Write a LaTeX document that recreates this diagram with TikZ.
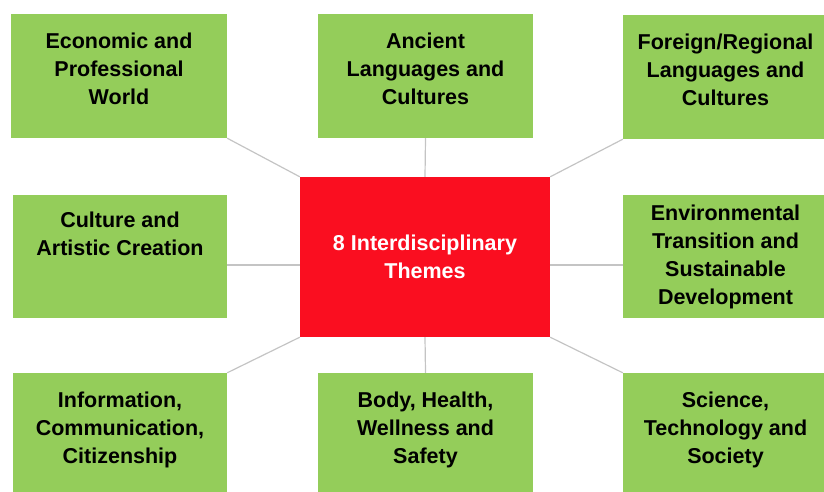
\documentclass[tikz,border=0pt]{standalone}
\usepackage{fontspec}
\setmainfont{Liberation Sans}
\usepackage{tikz}
\usetikzlibrary{positioning}
\definecolor{themegreen}{RGB}{148,205,90}
\definecolor{hubred}{RGB}{250,14,32}
\definecolor{linkgray}{RGB}{196,196,196}
\tikzset{theme/.style={rectangle,fill=themegreen,inner sep=0pt,minimum height=124pt}}
\tikzset{themetext/.style={align=center,inner sep=0pt,text=black,font=\fontsize{21.5}{28}\selectfont\bfseries}}
\tikzset{hub/.style={rectangle,fill=hubred,text=white,align=center,inner sep=0pt,minimum width=250pt,minimum height=160pt,font=\fontsize{21.5}{28}\selectfont\bfseries}}
\tikzset{link/.style={draw=linkgray,line width=1.2pt}}

\begin{document}
\begin{tikzpicture}[x=1pt,y=-1pt,node distance=19pt]
    \useasboundingbox (0,0) rectangle (824,491);
    \node[hub] (hub) at (425,257) {8 Interdisciplinary\\Themes};
    \node[theme, minimum width=216pt] (econ) at (119,76) {};
    \node[theme, minimum width=215pt] (ancient) at (425.5,76) {};
    \node[theme, minimum width=205pt] (foreign) at (725.5,77) {};
    \node[theme, minimum width=214pt, minimum height=123pt] (culture) at (120,256.5) {};
    \node[theme, minimum width=205pt, minimum height=123pt] (enviro) at (725.5,256.5) {};
    \node[theme, minimum width=214pt] (info) at (120,435) {};
    \node[theme, minimum width=215pt] (body) at (425.5,435) {};
    \node[theme, minimum width=205pt] (science) at (725.5,435) {};
    % labels hang from the top edge of each box
    \node[themetext, below=of econ.north] (econ-t) {Economic and\\Professional\\World};
    \node[themetext, below=of ancient.north] (ancient-t) {Ancient\\Languages and\\Cultures};
    \node[themetext, below=of foreign.north] (foreign-t) {Foreign/Regional\\Languages and\\Cultures};
    \node[themetext, below=17pt of culture.north] (culture-t) {Culture and\\Artistic Creation};
    \node[themetext, below=10pt of enviro.north] (enviro-t) {Environmental\\Transition and\\Sustainable\\Development};
    \node[themetext, below=of info.north] (info-t) {Information,\\Communication,\\Citizenship};
    \node[themetext, below=of body.north] (body-t) {Body, Health,\\Wellness and\\Safety};
    \node[themetext, below=of science.north] (science-t) {Science,\\Technology and\\Society};
    \coordinate (lmid) at ([yshift=-8pt]hub.west);
    \coordinate (rmid) at ([yshift=-8pt]hub.east);
    \draw[link] (econ.south east) -- (hub.north west);
    \draw[link] (ancient.south) -- (hub.north);
    \draw[link] (foreign.south west) -- (hub.north east);
    \draw[link] (lmid) -- (lmid -| culture.east);
    \draw[link] (rmid) -- (rmid -| enviro.west);
    \draw[link] (info.north east) -- (hub.south west);
    \draw[link] (body.north) -- (hub.south);
    \draw[link] (science.north west) -- (hub.south east);
\end{tikzpicture}
\end{document}
